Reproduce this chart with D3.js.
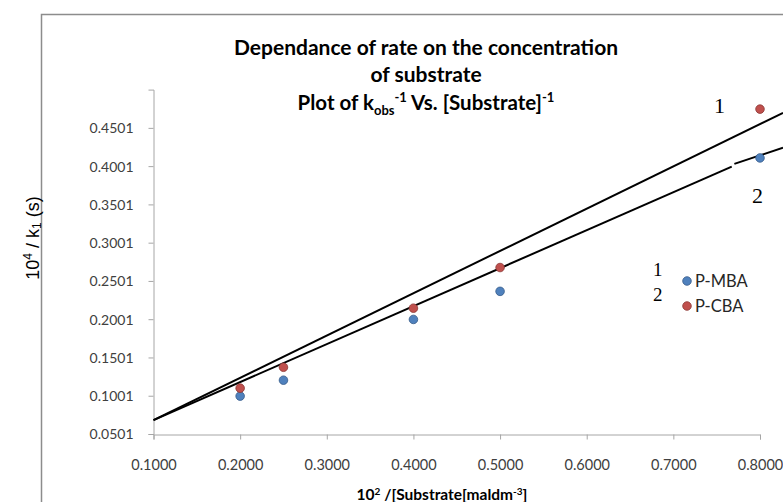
<!DOCTYPE html>
<html>
<head>
<meta charset="utf-8">
<script src="https://cdn.jsdelivr.net/npm/d3@7"></script>
<style>
  body { margin: 0; background: #fff; }
  svg { display: block; }
</style>
</head>
<body>
<svg width="783" height="502"></svg>
<script>
// data
var xValues = [0.2, 0.25, 0.4, 0.5, 0.8];
var pmba = [0.0996, 0.1204, 0.1998, 0.2365, 0.4108];
var pcba = [0.1100, 0.1373, 0.2145, 0.2676, 0.4746];
var xTicks = [0.1, 0.2, 0.3, 0.4, 0.5, 0.6, 0.7, 0.8];
var yTicks = [0.0501, 0.1001, 0.1501, 0.2001, 0.2501, 0.3001, 0.3501, 0.4001, 0.4501];
// trend lines (drawn by hand in the original), as [x, y] pairs
var trend1 = [[0.1, 0.0683], [0.8266, 0.4698]];
var trend2a = [[0.1, 0.0683], [0.7674, 0.3995]];
var trend2b = [[0.7704, 0.4030], [0.8266, 0.4242]];

var svg = d3.select("svg");

var x = d3.scaleLinear().domain([0.1, 0.8]).range([153.5, 760]);
var y = d3.scaleLinear().domain([0.0501, 0.5001]).range([434, 89.6]);

var sans = "Lato, 'Open Sans', sans-serif";
var serif = "'Liberation Serif', 'DejaVu Serif', serif";

// outer chart frame
svg.append("path")
    .attr("d", "M41.5,502 L41.5,14.5 L783,14.5")
    .attr("fill", "none")
    .attr("stroke", "#8c8c8c")
    .attr("stroke-width", 1.5);

var xAxis = svg.append("g")
    .attr("transform", "translate(0,434.5)")
    .call(d3.axisBottom(x).tickValues(xTicks).tickFormat(d3.format(".4f")).tickSizeOuter(0).tickSize(5).tickPadding(20));

var yAxis = svg.append("g")
    .attr("transform", "translate(153.5,0)")
    .call(d3.axisLeft(y).tickValues(yTicks).tickFormat(d3.format(".4f")).tickSizeOuter(0).tickSize(5).tickPadding(15));

[xAxis, yAxis].forEach(function (g) {
    g.select(".domain").attr("stroke", "#a6a6a6");
    g.selectAll(".tick line").attr("stroke", "#a6a6a6");
    g.selectAll(".tick text")
        .attr("fill", "#404040")
        .style("font-family", sans)
        .style("font-size", "14px");
});
xAxis.selectAll(".tick text").style("font-size", "14.5px");
yAxis.selectAll(".tick text").attr("dy", "0.35em");

// trend lines
var line = d3.line()
    .x(function (d) { return x(d[0]); })
    .y(function (d) { return y(d[1]); });

[trend1, trend2a, trend2b].forEach(function (t) {
    svg.append("path")
        .datum(t)
        .attr("d", line)
        .attr("fill", "none")
        .attr("stroke", "#000")
        .attr("stroke-width", 2);
});

// points
function drawPoints(vals, fill, stroke) {
    svg.append("g")
        .selectAll("circle")
        .data(vals)
        .enter()
        .append("circle")
        .attr("cx", function (d, i) { return x(xValues[i]); })
        .attr("cy", function (d) { return y(d); })
        .attr("r", 4.3)
        .attr("fill", fill)
        .attr("stroke", stroke)
        .attr("stroke-width", 0.8);
}
drawPoints(pmba, "#4f81bd", "#385d8a");
drawPoints(pcba, "#c0504d", "#8c3836");

// title
var title = svg.append("text")
    .attr("text-anchor", "middle")
    .style("font-family", sans)
    .style("font-weight", "bold")
    .style("font-size", "21px")
    .attr("fill", "#000");
title.append("tspan").attr("x", 426).attr("y", 55).text("Dependance of rate on the concentration");
title.append("tspan").attr("x", 426).attr("y", 82).text("of substrate");

var t3 = svg.append("text")
    .attr("x", 426).attr("y", 110)
    .attr("text-anchor", "middle")
    .style("font-family", sans)
    .style("font-weight", "bold")
    .style("font-size", "20.5px");
t3.append("tspan").text("Plot of k");
t3.append("tspan").attr("dy", 5).style("font-size", "13px").text("obs");
t3.append("tspan").attr("dy", -13).style("font-size", "13px").text("-1");
t3.append("tspan").attr("dy", 8).text(" Vs. [Substrate]");
t3.append("tspan").attr("dy", -8).style("font-size", "13px").text("-1");

// y axis title
var yt = svg.append("text")
    .attr("transform", "translate(39,238) rotate(-90)")
    .attr("text-anchor", "middle")
    .style("font-family", "'Liberation Sans', Arial, sans-serif")
    .style("font-size", "18px");
yt.append("tspan").text("10");
yt.append("tspan").attr("dy", -7).style("font-size", "12px").text("4");
yt.append("tspan").attr("dy", 7).text(" / k");
yt.append("tspan").attr("dy", 2).style("font-size", "12px").text("1");
yt.append("tspan").attr("dy", -2).text(" (s)");

// x axis title
var xt = svg.append("text")
    .attr("x", 442).attr("y", 500)
    .attr("text-anchor", "middle")
    .style("font-family", sans)
    .style("font-weight", "bold")
    .style("font-size", "15.5px");
xt.append("tspan").text("10");
xt.append("tspan").attr("dy", -5).style("font-size", "10px").text("2");
xt.append("tspan").attr("dy", 5).text(" /[Substrate[maldm");
xt.append("tspan").attr("dy", -5).style("font-size", "10px").text("-3");
xt.append("tspan").attr("dy", 5).text("]");

// line numbers
svg.append("text").attr("x", 714).attr("y", 113).style("font-family", serif).style("font-size", "22px").text("1");
svg.append("text").attr("x", 752).attr("y", 203).style("font-family", serif).style("font-size", "22px").text("2");

// legend
var legendItems = [
    { num: "1", name: "P-MBA", fill: "#4f81bd", stroke: "#385d8a" },
    { num: "2", name: "P-CBA", fill: "#c0504d", stroke: "#8c3836" }
];
var lg = svg.append("g").selectAll("g")
    .data(legendItems)
    .enter()
    .append("g")
    .attr("transform", function (d, i) { return "translate(0," + (281 + i * 25) + ")"; });
lg.append("text")
    .attr("x", 653).attr("y", -5)
    .style("font-family", serif)
    .style("font-size", "19px")
    .text(function (d) { return d.num; });
lg.append("circle")
    .attr("cx", 687).attr("cy", 0).attr("r", 4.3)
    .attr("fill", function (d) { return d.fill; })
    .attr("stroke", function (d) { return d.stroke; })
    .attr("stroke-width", 0.8);
lg.append("text")
    .attr("x", 695).attr("y", 6)
    .attr("fill", "#262626")
    .style("font-family", sans)
    .style("font-size", "16.5px")
    .text(function (d) { return d.name; });
</script>
</body>
</html>
